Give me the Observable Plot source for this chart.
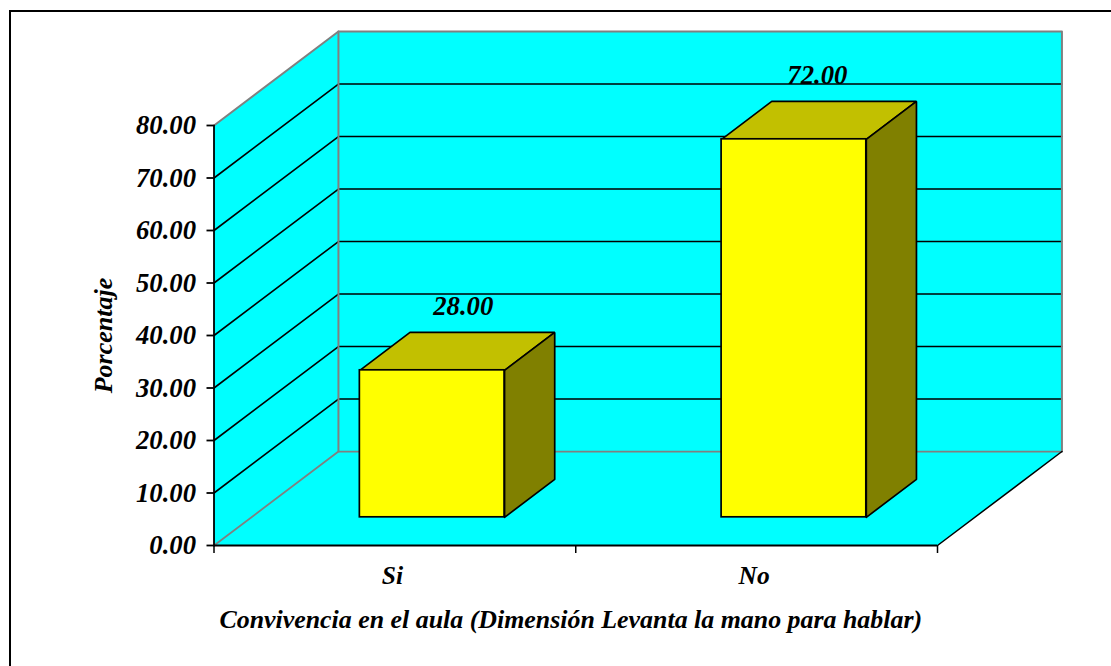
<!DOCTYPE html>
<html>
<head>
<meta charset="utf-8">
<script src="https://cdn.jsdelivr.net/npm/d3@7"></script>
<script src="https://cdn.jsdelivr.net/npm/@observablehq/plot@0.6"></script>
<style>
html,body{margin:0;padding:0;background:#fff;overflow:hidden}
#chart{position:relative;width:1111px;height:666px}
#frame{position:absolute;left:9px;top:10px;right:0;bottom:0;border-left:2px solid #000;border-top:2px solid #000;pointer-events:none}
svg{display:block;position:absolute;left:0;top:0}
</style>
</head>
<body>
<div id="chart"><div id="frame"></div></div>
<script>
const categories = ["Si", "No"];
const values = [28, 72];
const yTicks = [0, 10, 20, 30, 40, 50, 60, 70, 80];
const xTitle = "Convivencia en el aula (Dimensión Levanta la mano para hablar)";
const yTitle = "Porcentaje";

// Oblique projection of the 3D box, in data units
const depthX = 0.344, depthY = 17.9;
const barFrontDepth = 0.3, barBackDepth = 0.703, barWidth = 0.4;
const labelShift = [0.017, -0.004];
const p = (x, v, d) => ({x: x + d * depthX, y: v + d * depthY});
const [xMax, yMax] = [categories.length, 80];

const poly = (pts, o) => Plot.line([...pts, pts[0]], {x: "x", y: "y", curve: "linear", strokeLinejoin: "miter", ...o});
const seg = (pts, stroke, strokeWidth) => Plot.line(pts, {x: "x", y: "y", curve: "linear", stroke, strokeWidth});

const CYAN = "#00ffff", GRAY = "#808080", BLACK = "#000", YEL = "#ffff00", TOP = "#c2c000", SIDE = "#808000";

const inner = yTicks.filter(t => t > 0 && t < yMax);

const marks = [
  // walls and floor
  poly([p(0,0,1), p(xMax,0,1), p(xMax,yMax,1), p(0,yMax,1)], {fill: CYAN, stroke: "none"}),
  poly([p(0,0,0), p(0,yMax,0), p(0,yMax,1), p(0,0,1)], {fill: CYAN, stroke: "none"}),
  poly([p(0,0,0), p(xMax,0,0), p(xMax,0,1), p(0,0,1)], {fill: CYAN, stroke: "none"}),
  // gridlines
  ...inner.map(t => seg([p(0,t,0), p(0,t,1), p(xMax,t,1)], BLACK, 1.6)),
  // wall edges
  seg([p(0,yMax,0), p(0,yMax,1), p(xMax,yMax,1), p(xMax,0,1)], GRAY, 2),
  seg([p(0,0,0), p(0,0,1), p(xMax,0,1)], GRAY, 1.8),
  seg([p(0,0,1), p(0,yMax,1)], GRAY, 2),
  seg([p(xMax,0,0), p(xMax,0,1)], BLACK, 1.5),
  seg([p(0,0,0), p(0,yMax,0)], BLACK, 1.8),
  // bars
  ...values.flatMap((v, i) => {
    const a = i + 0.5 - barWidth / 2, b = i + 0.5 + barWidth / 2;
    const f = barFrontDepth, k = barBackDepth;
    const style = {stroke: BLACK, strokeWidth: 1.7};
    return [
      poly([p(a,v,f), p(b,v,f), p(b,v,k), p(a,v,k)], {fill: TOP, ...style}),
      poly([p(b,0,f), p(b,v,f), p(b,v,k), p(b,0,k)], {fill: SIDE, ...style}),
      Plot.rect([{x1: p(a,0,f).x, x2: p(b,0,f).x, y1: p(0,0,f).y, y2: p(0,v,f).y}],
        {x1: "x1", x2: "x2", y1: "y1", y2: "y2", fill: YEL, ...style})
    ];
  }),
  // value labels
  Plot.text(values, {
    x: (v, i) => p(i + 0.5 + labelShift[i], v, barBackDepth).x - barBackDepth * depthX / 2 + 0.051,
    y: v => p(0, v, barBackDepth).y,
    text: v => v.toFixed(2),
    dy: -17, lineAnchor: "bottom", fill: BLACK, fontSize: 26.7
  }),
  Plot.ruleY([0], {stroke: BLACK, strokeWidth: 2.2}),
  // axes
  Plot.axisY({ticks: yTicks, tickFormat: d => d.toFixed(2), tickSize: 7, tickPadding: 11, fontSize: 26.7,
    stroke: BLACK, strokeWidth: 1.8, label: null}),
  Plot.axisX({ticks: [0, 1, 2], tickFormat: () => "", tickSize: 8, stroke: BLACK, strokeWidth: 1.5, label: null}),
  Plot.axisX({ticks: categories.map((c, i) => i + 0.5), tickFormat: d => categories[Math.floor(d)],
    tickSize: 0, tickPadding: 20, dx: -2.5, fontSize: 25.5, label: null}),
  Plot.text([yTitle], {frameAnchor: "left", textAnchor: "middle", dx: -110, rotate: -90, fontSize: 26, fill: BLACK}),
  Plot.text([xTitle], {frameAnchor: "bottom", dx: -5, dy: 82, fontSize: 25.9, fill: BLACK})
];

const chart = Plot.plot({
  width: 1111, height: 666,
  marginLeft: 213.5, marginRight: 174, marginTop: 125, marginBottom: 121,
  x: {domain: [0, xMax], axis: null},
  y: {domain: [0, yMax], axis: null},
  style: {fontFamily: "'Liberation Serif', serif", fontWeight: "bold", fontStyle: "italic", background: "transparent", color: "#000", overflow: "visible"},
  marks
});
document.getElementById("chart").appendChild(chart);
</script>
</body>
</html>
